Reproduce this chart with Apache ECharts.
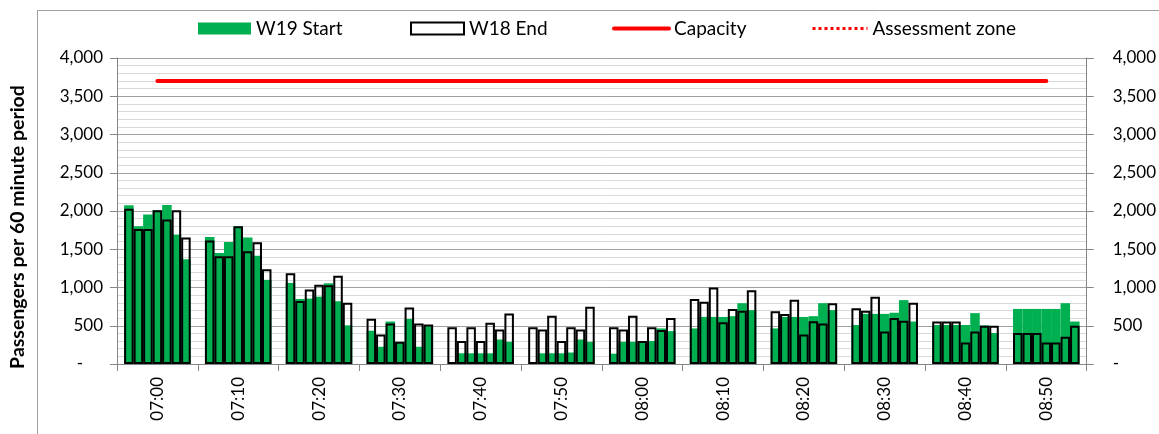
<!DOCTYPE html>
<html><head><meta charset="utf-8">
<script src="https://cdn.jsdelivr.net/npm/echarts@6/dist/echarts.min.js"></script>
<style>html,body{margin:0;padding:0;background:#fff}#c{width:1159px;height:434px}</style>
</head><body><div id="c"></div>
<script>
// ---- data ----
const timeLabels = ['07:00','07:10','07:20','07:30','07:40','07:50','08:00','08:10','08:20','08:30','08:40','08:50'];
const barsPerGroup = 7;
const w19Start = [
  2075,1800,1955,2010,2080,1690,1370,
  1660,1450,1595,1800,1655,1415,1100,
  1060, 850, 855, 880,1055, 820, 505,
   435, 225, 555, 290, 590, 225, 505,
     0, 140, 140, 140, 140, 320, 290,
     0, 140, 140, 140, 150, 320, 290,
   135, 290, 290, 290, 300, 465, 430,
   465, 615, 615, 615, 625, 795, 705,
   465, 615, 615, 615, 625, 795, 705,
   510, 655, 655, 655, 670, 835, 555,
   510, 510, 510, 510, 665, 505, 405,
   720, 720, 720, 720, 720, 795, 555
];
const w18End = [
  2030,1765,1765,2010,1890,2010,1655,
  1615,1410,1410,1800,1475,1590,1240,
  1185, 825, 975,1035,1030,1155, 800,
   590, 385, 530, 290, 740, 530, 515,
   480, 300, 480, 300, 540, 450, 660,
   480, 450, 630, 300, 480, 450, 750,
   480, 450, 630, 300, 480, 445, 600,
   850, 815,1000, 545, 720, 695, 965,
   690, 655, 840, 385, 560, 530, 795,
   730, 695, 880, 425, 600, 565, 800,
   555, 555, 555, 280, 425, 500, 500,
   405, 405, 405, 280, 280, 355, 500
];
const capacity = 3700;
const yMax = 4000, yStep = 500;

// ---- layout helpers (slots per group on hidden value axis) ----
const SLOTS = 8.5, PAD = (SLOTS - barsPerGroup) / 2;
const nGroups = timeLabels.length;
const barX = k => Math.floor(k / barsPerGroup) * SLOTS + PAD + (k % barsPerGroup) + 0.5;
const groupCenter = g => g * SLOTS + SLOTS / 2;

const FONT = 'Lato';
const fmt = v => v === 0 ? '-' : v.toLocaleString('en-US');
const legendText = { fontSize: 19, color: '#000', fontFamily: FONT };

const chart = echarts.init(document.getElementById('c'));
const BW = 970 / (nGroups * SLOTS);
chart.setOption({
  animation: false,
  backgroundColor: '#fff',
  textStyle: { fontFamily: FONT },
  grid: { left: 117, right: 72, top: 58, bottom: 70, containLabel: false },
  legend: [
    { data: ['W19 Start'], icon: 'rect', left: 193, top: 14, itemWidth: 53, itemHeight: 12, textStyle: legendText },
    { data: ['W18 End'], icon: 'rect', left: 405, top: 14, itemWidth: 53, itemHeight: 12, textStyle: legendText },
    { data: ['Capacity'], left: 607, top: 14, itemWidth: 55, itemHeight: 12, lineStyle: { width: 4 }, itemStyle: { opacity: 0 }, textStyle: legendText },
    { data: ['Assessment zone'], left: 806, top: 14, itemWidth: 55, itemHeight: 12, lineStyle: { width: 3, type: 'dotted' }, itemStyle: { opacity: 0 }, textStyle: legendText }
  ],
  xAxis: [
    { type: 'value', min: 0, max: nGroups * SLOTS, show: false },
    { type: 'category', data: timeLabels, boundaryGap: true, position: 'bottom',
      axisLine: { show: true, lineStyle: { color: '#868686', width: 1 } },
      axisTick: { show: true, interval: 0, length: 7, lineStyle: { color: '#868686' } },
      axisLabel: { rotate: 90, margin: 13, fontSize: 17, color: '#000', fontFamily: FONT, interval: 0 },
      splitLine: { show: false } }
  ],
  yAxis: [
    { type: 'value', min: 0, max: yMax, interval: yStep, position: 'left',
      axisLine: { show: true, lineStyle: { color: '#868686' } },
      axisTick: { show: true, length: 7, lineStyle: { color: '#868686' } },
      minorTick: { show: false, splitNumber: 5 },
      minorSplitLine: { show: true, lineStyle: { color: '#D9D9D9', width: 1 } },
      splitLine: { show: true, lineStyle: { color: '#A0A0A0', width: 1 } },
      axisLabel: { margin: 14, fontSize: 17, color: '#000', fontFamily: FONT,
        formatter: v => v === 0 ? '{z|-}' : fmt(v),
        rich: { z: { fontSize: 17, fontFamily: FONT, color: '#000', padding: [0, 20, 0, 0] } } } },
    { type: 'value', min: 0, max: yMax, interval: yStep, position: 'right',
      axisLine: { show: true, lineStyle: { color: '#868686' } },
      axisTick: { show: true, length: 7, lineStyle: { color: '#868686' } },
      splitLine: { show: false },
      axisLabel: { margin: 26, fontSize: 17, color: '#000', fontFamily: FONT, formatter: fmt } }
  ],
  series: [
    { name: 'W19 Start', type: 'bar', xAxisIndex: 0, yAxisIndex: 0, barWidth: BW, barGap: '-100%',
      itemStyle: { color: '#00B050' }, z: 2,
      data: w19Start.map((v, k) => [barX(k), v]) },
    { name: 'W18 End', type: 'bar', xAxisIndex: 0, yAxisIndex: 0, barWidth: BW, barGap: '-100%',
      itemStyle: { color: 'rgba(255,255,255,0)', borderColor: '#000', borderWidth: 2 }, z: 3,
      data: w18End.map((v, k) => [barX(k), v]) },
    { name: 'Capacity', type: 'line', xAxisIndex: 0, yAxisIndex: 0, symbol: 'none', z: 4,
      lineStyle: { color: '#FF0000', width: 4, cap: 'round' }, itemStyle: { color: '#FF0000' },
      data: [[groupCenter(0), capacity], [groupCenter(nGroups - 1), capacity]] },
    { name: 'Assessment zone', type: 'line', xAxisIndex: 0, yAxisIndex: 0, symbol: 'none',
      lineStyle: { color: '#FF0000', width: 3, type: 'dotted' }, itemStyle: { color: '#FF0000' },
      data: [] }
  ],
  graphic: [
    { type: 'line', shape: { x1: 37.5, y1: 10, x2: 37.5, y2: 434 }, style: { stroke: '#A0A0A0', lineWidth: 1 } },
    { type: 'line', shape: { x1: 37, y1: 10.5, x2: 1159, y2: 10.5 }, style: { stroke: '#A0A0A0', lineWidth: 1 } },
    { type: 'text', x: 18, y: 227, rotation: Math.PI / 2,
      style: { text: 'Passengers per 60 minute period', fontSize: 19.5, fontWeight: 'bold', fontFamily: FONT, fill: '#000', align: 'center', verticalAlign: 'middle' } }
  ]
});
</script></body></html>
